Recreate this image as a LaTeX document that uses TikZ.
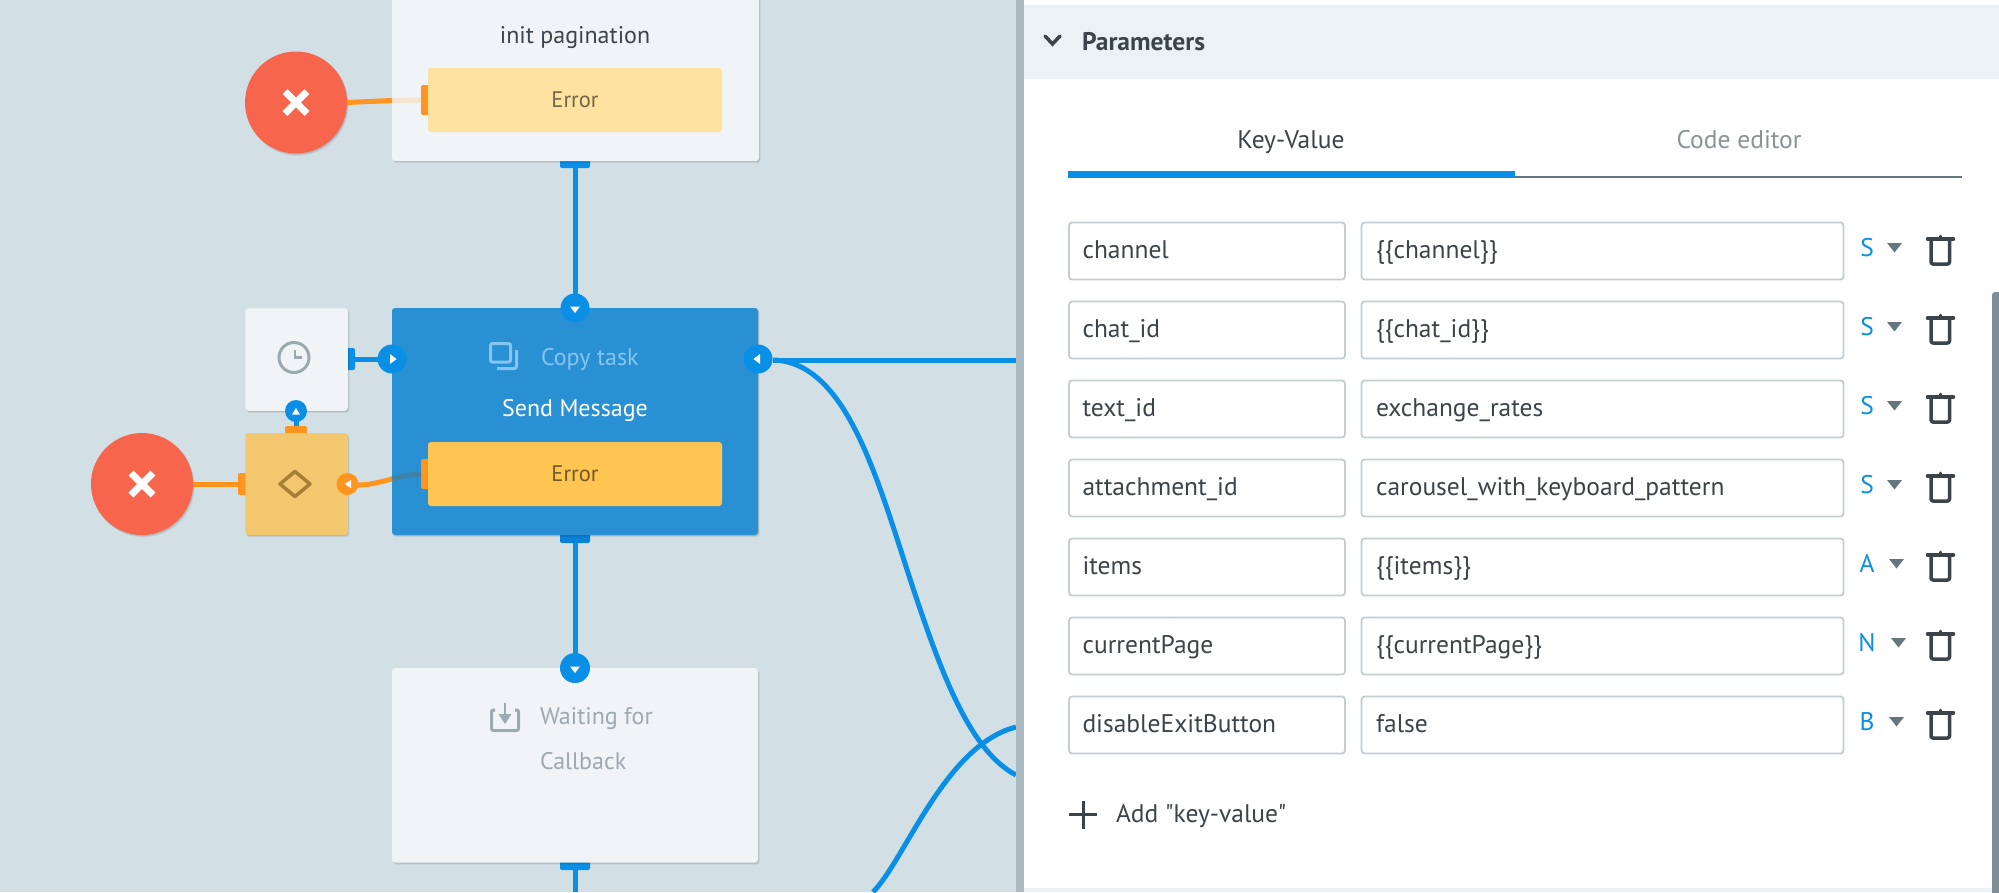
\documentclass[tikz,border=0pt]{standalone}
\usepackage{fontspec}
\setmainfont{PT Sans}
\newfontfamily\plainpt{PT Sans}
\usetikzlibrary{shadows,calc}
\definecolor{bgc}{HTML}{D2DFE5}
\definecolor{cardc}{HTML}{F0F4F6}
\definecolor{bluec}{HTML}{0A8FE6}
\definecolor{bluedk}{HTML}{0882D8}
\definecolor{orangec}{HTML}{FF951F}
\definecolor{redc}{HTML}{F7664C}
\definecolor{selc}{HTML}{2A90D4}
\definecolor{errpale}{HTML}{FFE2A0}
\definecolor{errc}{HTML}{FFC552}
\definecolor{condc}{HTML}{F2C76E}
\definecolor{condink}{HTML}{A67F35}
\definecolor{greyink}{HTML}{9BA9B1}
\definecolor{dark}{HTML}{3C444B}
\definecolor{divc}{HTML}{ABBAC1}
\definecolor{headc}{HTML}{EAF2F6}
\definecolor{fieldc}{HTML}{C3CDD2}
\definecolor{lightblue}{HTML}{86C4F2}
\definecolor{caretc}{HTML}{66767E}
\definecolor{mutedc}{HTML}{8A9399}
\definecolor{scrollc}{HTML}{7F8D97}
\definecolor{dimwire}{HTML}{3F82A6}
\tikzset{
  x=1pt,y=-1pt,
  softshadow/.style={drop shadow={shadow xshift=1.6pt,shadow yshift=-2.2pt,opacity=.07,fill=black},
                     drop shadow={shadow xshift=.8pt,shadow yshift=-1.2pt,opacity=.10,fill=black}},
  box/.style={rectangle,rounded corners=3pt,inner sep=0pt,outer sep=0pt},
  card/.style={box,fill=cardc,softshadow},
  tabo/.style={box,rounded corners=2pt,fill=orangec},
  tabb/.style={box,rounded corners=2pt,fill=bluec},
  port/.style={circle,inner sep=0pt,outer sep=0pt,minimum size=29pt,fill=bluec},
  sport/.style={port,minimum size=22pt},
  oport/.style={sport,fill=orangec},
  redx/.style={circle,inner sep=0pt,outer sep=0pt,minimum size=102pt,fill=redc,softshadow},
  wire/.style={line width=5pt,bluec},
  owire/.style={line width=5pt,orangec},
  cross/.style={line width=7pt,white},
  tri/.style={fill=white},
  txt/.style={inner sep=0pt,outer sep=0pt,anchor=base,font=\fontsize{24}{28}\selectfont},
  ptxt/.style={txt,font=\fontsize{25.5}{30}\selectfont},
  field/.style={box,draw=fieldc,line width=1.8pt,fill=white},
  kv/.style={ptxt,anchor=base west,text=dark},
  typel/.style={ptxt,text=bluec},
  bin/.style={line width=3.5pt,dark,line join=round},
  errtxt/.style={box,font=\fontsize{22.5}{26}\selectfont},
}
\newcommand{\xmark}[1]{%
  \draw[cross] ($(#1)+(-11,-11)$) -- ($(#1)+(11,11)$);
  \draw[cross] ($(#1)+(-11,11)$) -- ($(#1)+(11,-11)$);}
\newcommand{\kvrow}[6]{% y, key, value, type, id, caret offset
  \node[field,minimum width=276pt,minimum height=57pt] (key#5) at (1207,#1) {};
  \node[field,minimum width=482pt,minimum height=57pt] (val#5) at (1602.5,#1) {};
  \node[kv] (keyt#5) at (1082.5,#1+7) {#2};
  \node[kv] (valt#5) at (1376,#1+7) {#3};
  \node[typel] (typ#5) at (1867,#1+5.5) {#4};
  \fill[caretc] (1887+#6,#1-8) -- (1902+#6,#1-8) -- (1894.5+#6,#1+1.5) -- cycle;
  \draw[bin,rounded corners=2pt] (1931,#1-12) -- (1931,#1+13) -- (1949.5,#1+13) -- (1949.5,#1-12);
  \draw[bin,line cap=round] (1927.5,#1-12) -- (1953.5,#1-12);
  \draw[bin,line width=3pt,line cap=round] (1940.5,#1-15) -- (1940.5,#1-12);
}
\begin{document}
\begin{tikzpicture}
\useasboundingbox (0,0) rectangle (1999,892);
\clip (0,0) rectangle (1999,892);
\fill[bgc] (0,0) rectangle (1999,892);

\coordinate (exitA) at (1016,775);
\coordinate (exitB) at (1016,727);
\coordinate (entryB) at (873,892);
\coordinate (exitC) at (1016,360);
\coordinate (pageB) at (575,892);

% --- tabs, under their cards
\node[tabb,minimum width=30pt,minimum height=12pt] (inittab) at (575,162) {};
\node[tabb,fill=bluedk,minimum width=30pt,minimum height=16pt] (sendtab) at (575,535) {};
\node[tabb,minimum width=30pt,minimum height=16pt] (waittab) at (575,862) {};
\node[tabb,minimum width=14pt,minimum height=22pt] (timertab) at (348,359) {};
\node[tabo,minimum width=14pt,minimum height=22pt] (condleft) at (245,484) {};
\node[tabo,minimum width=22pt,minimum height=14pt] (condtop) at (296,433) {};

% --- cards
\node[card,minimum width=367pt,minimum height=191pt] (init) at (575.5,65.5) {};
\node[card,fill=selc,minimum width=366pt,minimum height=227pt] (send) at (575,421.5) {};
\node[card,minimum width=366pt,minimum height=194.5pt] (wait) at (575,765.25) {};
\node[card,minimum width=102.5pt,minimum height=102.5pt] (timer) at (296.5,359.5) {};
\node[card,fill=condc,minimum width=102.5pt,minimum height=102pt] (cond) at (296.5,484) {};

% --- init card
\node[txt,text=dark] (initt) at (575,43) {init pagination};
\node[redx] (red1) at (296,102.5) {};
\xmark{red1}
\node[tabo,minimum width=10pt,minimum height=30pt] (err1tab) at (426,100) {};
\node[errtxt,fill=errpale,minimum width=294pt,minimum height=64pt,text=black!55!errpale] (err1) at (575,100) {Error};
\draw[owire] (red1.east) -- (392,100.5);
\draw[line width=5pt,orangec!18!cardc] (392,100.5) -- (err1tab.west);

% --- timer
\draw[wire] (timertab.east) -- (392,359);
\draw[line width=3pt,greyink] (294,357.5) circle (15);
\draw[line width=2.6pt,greyink] (295,350) -- (295,357.5) -- (302,357.5);

% --- condition
\node[redx] (red2) at (142,484) {};
\xmark{red2}
\draw[owire] (red2.east) -- (condleft.west);
\draw[line width=3.5pt,condink,line join=round] (295,471.5) -- (310,484) -- (295,496.5) -- (280,484) -- cycle;
\node[sport] (upport) at (296,411) {};
\draw[wire] (upport.center) -- (condtop.north);
\fill[tri] (292,414.5) -- (300,414.5) -- (296,408) -- cycle;

% --- send card contents
\node[tabo,minimum width=10pt,minimum height=30pt] (err2tab) at (426,474) {};
\node[errtxt,fill=errc,minimum width=294pt,minimum height=64pt,text=black!55!errc] (err2) at (575,474) {Error};
\node[oport] (oport1) at (347.5,484) {};
\fill[tri] (351,480) -- (351,488) -- (344.5,484) -- cycle;
\draw[owire] (358,485) .. controls (370,485) and (380,482) .. (392,479);
\draw[line width=5pt,dimwire] (392,479) .. controls (402,476.5) and (412,474) .. (err2tab.west);

\draw[line width=3pt,lightblue,rounded corners=2pt] (490.5,343.5) rectangle (510.5,362);
\draw[line width=3pt,lightblue,rounded corners=2pt] (516.5,350) -- (516.5,368.5) -- (497,368.5);
\node[txt,anchor=base west,text=lightblue] (copyt) at (541,365) {Copy task};
\node[txt,text=white] (sendt) at (575,416) {Send Message};

% --- waiting card contents
\draw[line width=3pt,greyink,rounded corners=2pt] (495,710) -- (491.5,710) -- (491.5,730.5) -- (518.5,730.5) -- (518.5,710) -- (515,710);
\draw[line width=2.5pt,greyink] (505,703) -- (505,718);
\fill[greyink] (498.5,714) -- (511.5,714) -- (505,724) -- cycle;
\node[txt,anchor=base west,text=greyink] (waitt1) at (540,724.5) {Waiting for};
\node[txt,anchor=base west,text=greyink] (waitt2) at (540,769) {Callback};

% --- blue wires
\draw[wire] (inittab.south) -- (575,300);
\node[port] (pin1) at (575,308) {};
\fill[tri] (570,306.5) -- (580,306.5) -- (575,313) -- cycle;
\draw[wire] (sendtab.south) -- (575,660);
\node[port,minimum size=30pt] (pin2) at (575,668) {};
\fill[tri] (570,666.5) -- (580,666.5) -- (575,673) -- cycle;
\draw[wire] (waittab.south) -- (pageB);
\node[port] (pinL) at (392,359) {};
\fill[tri] (390,354) -- (390,364) -- (396.5,359) -- cycle;
\node[port] (pinR) at (758,359) {};
\fill[tri] (760,354) -- (760,364) -- (753.5,359) -- cycle;
\draw[wire] (pinR.east) ++(0,1) -- (exitC);
\draw[wire] (773,360) .. controls (850,362) and (880,490) .. (917,600) .. controls (944,680) and (972,752) .. (exitA);
\draw[wire] (entryB) .. controls (905,860) and (945,745) .. (exitB);

% --- side panel
\fill[divc] (1016,0) rectangle (1023.5,892);
\fill[white] (1023.5,0) rectangle (1999,892);
\fill[headc] (1023.5,5) rectangle (1999,79);
\fill[headc] (1023.5,888) rectangle (1992,892);
\draw[line width=3.5pt,dark,line cap=round,line join=miter] (1045,36) -- (1052.5,44) -- (1060,36);
\node[ptxt,anchor=base west,text=dark,font=\fontsize{25.5}{30}\selectfont\bfseries] (params) at (1082,50) {Parameters};
\node[ptxt,text=dark] (kvt) at (1291,148) {Key-Value};
\node[ptxt,text=mutedc] (cet) at (1739,148) {Code editor};
\fill[caretc] (1067.5,176) rectangle (1962,178);
\fill[bluec] (1067.5,170.5) rectangle (1515,178);

\kvrow{251}{channel}{\{\{channel\}\}}{S}{a}{0}
\kvrow{330}{chat\_id}{\{\{chat\_id\}\}}{S}{b}{0}
\kvrow{409}{text\_id}{exchange\_rates}{S}{c}{0}
\kvrow{488}{attachment\_id}{carousel\_with\_keyboard\_pattern}{S}{d}{0}
\kvrow{567}{items}{\{\{items\}\}}{A}{e}{2}
\kvrow{646}{currentPage}{\{\{currentPage\}\}}{N}{f}{4}
\kvrow{725}{disableExitButton}{false}{B}{g}{2}

\draw[line width=3pt,dark] (1069,814.5) -- (1097,814.5);
\draw[line width=3pt,dark] (1083,800.5) -- (1083,828.5);
\node[ptxt,anchor=base west,text=dark,font=\plainpt\fontsize{25.5}{30}\selectfont] (addt) at (1116,822) {Add "key-value"};

\fill[rounded corners=3pt,scrollc] (1992,292) rectangle (2005,900);
\end{tikzpicture}
\end{document}
